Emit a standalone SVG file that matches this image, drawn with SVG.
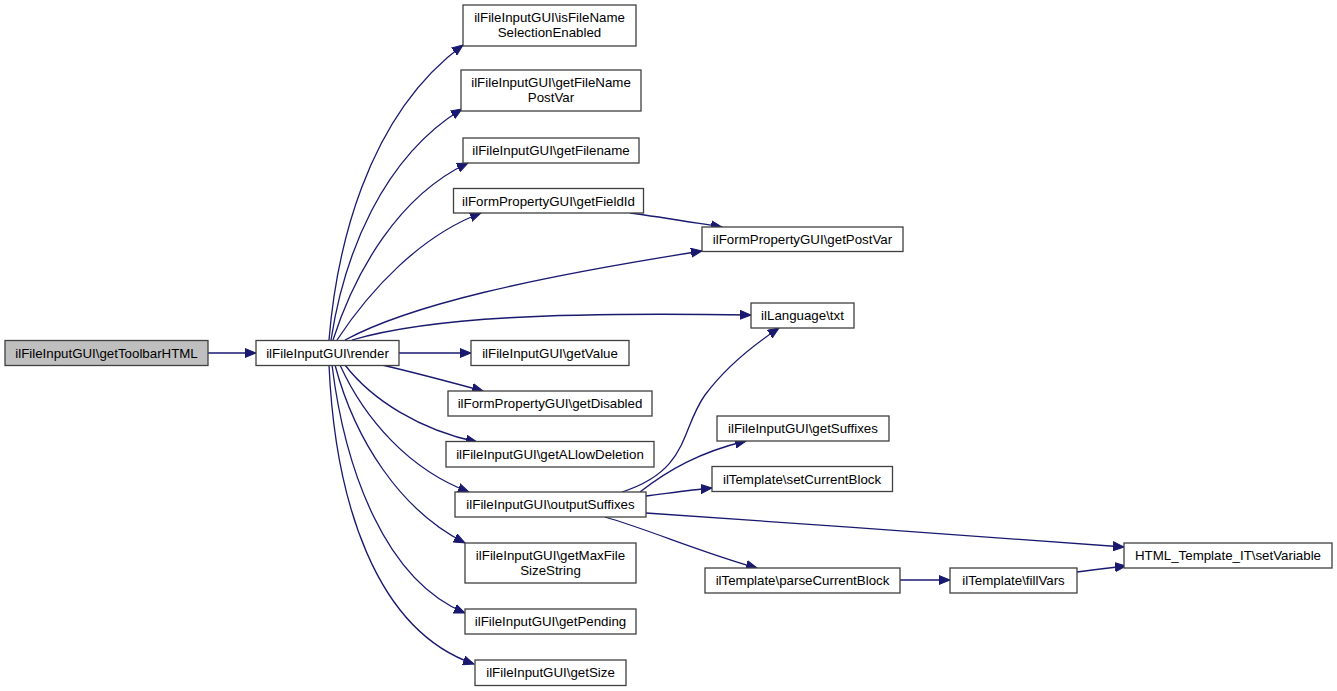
<svg xmlns="http://www.w3.org/2000/svg" width="1337" height="691" viewBox="0 0 1337 691">
<style>
.n rect{fill:#ffffff;stroke:#404040;stroke-width:1.3}
.n.root rect{fill:#bfbfbf}
.n text{font-family:"Liberation Sans",Arial,sans-serif;font-size:13.3px;fill:#000;text-anchor:middle}
.e path{fill:none;stroke:#191970;stroke-width:1.3;marker-end:url(#ah)}
</style>
<defs>
<marker id="ah" markerUnits="userSpaceOnUse" markerWidth="12" markerHeight="10" refX="11" refY="4.5" orient="auto" viewBox="0 0 12 9">
<path d="M0,0 L11,4.5 L0,9 Z" fill="#191970" stroke="#191970" stroke-width="1"/>
</marker>
</defs>
<rect width="1337" height="691" fill="#ffffff"/>
<g id="edges" class="e">
<path d="M208,353 L256,353"/>
<path d="M329,340 C336,255 364,118 463,45"/>
<path d="M331,340 C344,255 382,158 462,109"/>
<path d="M333,340 C355,272 398,196 468,163"/>
<path d="M337,340 C370,290 420,236 481,213"/>
<path d="M345,340 C410,305 530,278 702,251"/>
<path d="M352,340 C430,317 560,312 751,315"/>
<path d="M399,353 L471,353"/>
<path d="M382,365 C412,372 450,382 483,391"/>
<path d="M345,365 C372,400 420,430 477,442"/>
<path d="M340,365 C365,420 410,470 469,492"/>
<path d="M335,365 C355,440 400,510 465,543"/>
<path d="M332,365 C345,470 385,580 465,613"/>
<path d="M329,365 C335,500 375,630 474,664"/>
<path d="M630,213 C660,217 690,222 722,227"/>
<path d="M622,492 C690,470 680,430 705,395 C725,368 752,346 779,328"/>
<path d="M640,492 C668,470 700,452 746,441"/>
<path d="M646,496 C670,493 690,490 712,488"/>
<path d="M646,513 C800,523 980,537 1124,547"/>
<path d="M605,517 C650,530 700,552 757,568"/>
<path d="M900,580 L950,580"/>
<path d="M1077,572 C1092,570 1108,568 1126,566"/>
</g>
<g id="getToolbarHTML" class="n root"><rect x="5" y="340.5" width="203" height="25"/><text x="106.5" y="357.5">ilFileInputGUI\getToolbarHTML</text></g>
<g id="render" class="n"><rect x="256" y="340.5" width="143" height="25"/><text x="327.5" y="357.5">ilFileInputGUI\render</text></g>
<g id="isFileNameSelectionEnabled" class="n"><rect x="463" y="5" width="173" height="41"/><text x="549.5" y="22">ilFileInputGUI\isFileName</text><text x="549.5" y="37">SelectionEnabled</text></g>
<g id="getFileNamePostVar" class="n"><rect x="461" y="70" width="180" height="41"/><text x="551" y="87">ilFileInputGUI\getFileName</text><text x="551" y="102">PostVar</text></g>
<g id="getFilename" class="n"><rect x="463" y="138" width="176" height="25"/><text x="551" y="155">ilFileInputGUI\getFilename</text></g>
<g id="getFieldId" class="n"><rect x="453.5" y="188.5" width="190" height="24.5"/><text x="548.5" y="205.5">ilFormPropertyGUI\getFieldId</text></g>
<g id="getPostVar" class="n"><rect x="702" y="227" width="201" height="24.5"/><text x="802.5" y="244">ilFormPropertyGUI\getPostVar</text></g>
<g id="txt" class="n"><rect x="751" y="303" width="103" height="25"/><text x="802.5" y="320">ilLanguage\txt</text></g>
<g id="getValue" class="n"><rect x="471" y="340.5" width="158" height="25"/><text x="550" y="357.5">ilFileInputGUI\getValue</text></g>
<g id="getDisabled" class="n"><rect x="448" y="391" width="204" height="25"/><text x="550" y="408">ilFormPropertyGUI\getDisabled</text></g>
<g id="getALlowDeletion" class="n"><rect x="446" y="441.5" width="208" height="25.5"/><text x="550" y="459">ilFileInputGUI\getALlowDeletion</text></g>
<g id="outputSuffixes" class="n"><rect x="455" y="492" width="191" height="25"/><text x="550.5" y="509">ilFileInputGUI\outputSuffixes</text></g>
<g id="getMaxFileSizeString" class="n"><rect x="465" y="543" width="171" height="40"/><text x="550.5" y="560">ilFileInputGUI\getMaxFile</text><text x="550.5" y="575">SizeString</text></g>
<g id="getPending" class="n"><rect x="465" y="609" width="171" height="25"/><text x="550.5" y="626">ilFileInputGUI\getPending</text></g>
<g id="getSize" class="n"><rect x="475" y="660" width="151" height="25.5"/><text x="550.5" y="677">ilFileInputGUI\getSize</text></g>
<g id="getSuffixes" class="n"><rect x="717" y="416" width="172" height="25"/><text x="803" y="433">ilFileInputGUI\getSuffixes</text></g>
<g id="setCurrentBlock" class="n"><rect x="712" y="466.5" width="180.5" height="25"/><text x="802" y="483.5">ilTemplate\setCurrentBlock</text></g>
<g id="parseCurrentBlock" class="n"><rect x="705" y="568" width="195" height="25"/><text x="802.5" y="585">ilTemplate\parseCurrentBlock</text></g>
<g id="fillVars" class="n"><rect x="950" y="568" width="127" height="25"/><text x="1013.5" y="585">ilTemplate\fillVars</text></g>
<g id="setVariable" class="n"><rect x="1124" y="543" width="208" height="25"/><text x="1228" y="560">HTML_Template_IT\setVariable</text></g>
</svg>
